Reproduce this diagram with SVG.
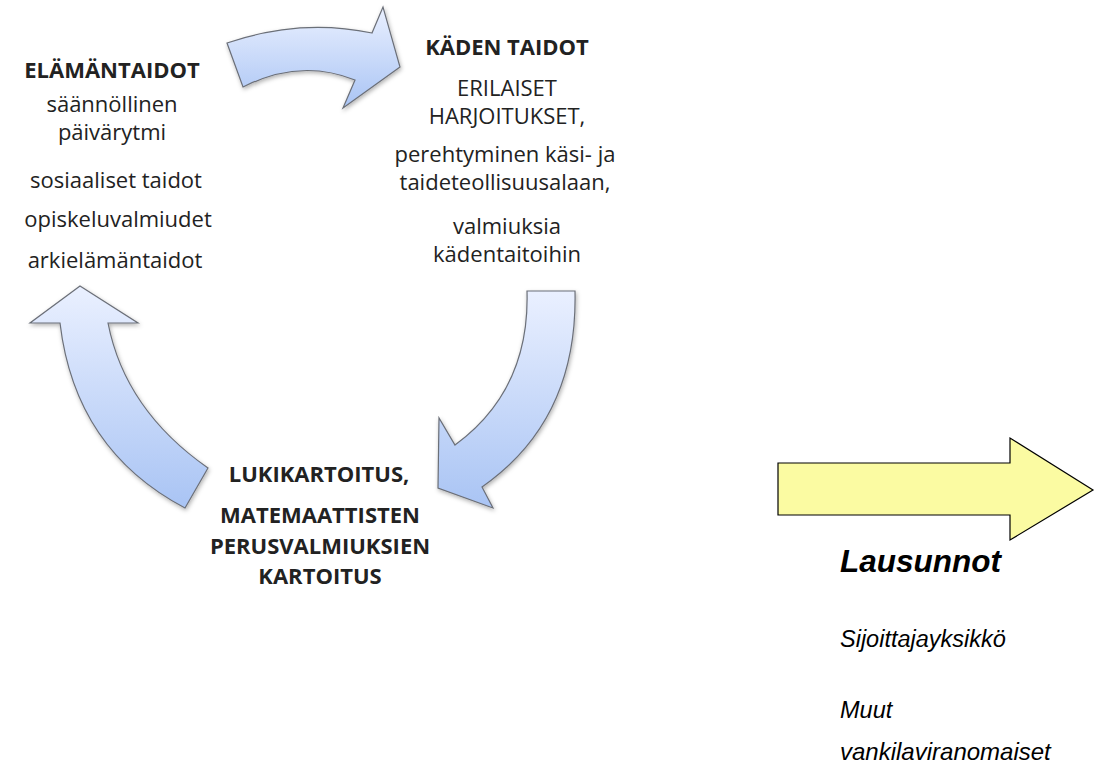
<svg xmlns="http://www.w3.org/2000/svg" width="1097" height="765" viewBox="0 0 1097 765">
<style>
.t{font-family:"Open Sans","Liberation Sans",sans-serif;font-size:22px;fill:#222;text-anchor:middle}
.b{font-weight:bold;font-size:22px}
.r{font-family:"Liberation Sans",Arial,sans-serif;font-style:italic;fill:#000}
.arr{fill:url(#blue);stroke:#6b6f78;stroke-width:1.2;filter:url(#sh)}
</style>
<defs>
<linearGradient id="blue" x1="0" y1="0" x2="0" y2="1">
<stop offset="0" stop-color="#eaf0ff"/>
<stop offset="1" stop-color="#a9c4f4"/>
</linearGradient>
<filter id="sh" x="-20%" y="-20%" width="140%" height="140%">
<feDropShadow dx="1" dy="2" stdDeviation="2" flood-color="#000" flood-opacity="0.3"/>
</filter>
</defs>
<rect width="1097" height="765" fill="#fff"/>
<g id="connectors">
<path id="arrow-top" class="arr" d="M227,43 Q300,18 372,33 L383,7 L400,67 L343,108 L355,80 Q300,58 243,87 Z"/>
<path id="arrow-right" class="arr" d="M527,291 L575,291 Q578,420 482,487 L493,508 L438,488 L439,418 L455,445 Q530,390 527,291 Z"/>
<path id="arrow-left" class="arr" d="M80,286 L138,323 L108,323 Q125,410 208,468 L185,508 Q75,450 60,323 L30,323 Z"/>
<polygon id="arrow-yellow" points="778,463 1010,463 1010,438 1093,490 1010,540 1010,515 778,515" fill="#fbfba2" stroke="#000" stroke-width="1.2"/>
</g>
<g id="node-elamantaidot">
<text class="t b" x="112" y="78">ELÄMÄNTAIDOT</text>
<text class="t" x="112" y="112">säännöllinen</text>
<text class="t" x="112" y="140">päivärytmi</text>
<text class="t" x="116" y="188">sosiaaliset taidot</text>
<text class="t" x="118" y="227">opiskeluvalmiudet</text>
<text class="t" x="115" y="268">arkielämäntaidot</text>
</g>
<g id="node-kaden-taidot">
<text class="t b" x="507" y="55">KÄDEN TAIDOT</text>
<text class="t" x="507" y="96">ERILAISET</text>
<text class="t" x="507" y="124">HARJOITUKSET,</text>
<text class="t" x="505" y="162">perehtyminen käsi- ja</text>
<text class="t" x="505" y="190">taideteollisuusalaan,</text>
<text class="t" x="507" y="234">valmiuksia</text>
<text class="t" x="507" y="262">kädentaitoihin</text>
</g>
<g id="node-lukikartoitus">
<text class="t b" x="319" y="482">LUKIKARTOITUS,</text>
<text class="t b" x="320" y="523">MATEMAATTISTEN</text>
<text class="t b" x="320" y="554">PERUSVALMIUKSIEN</text>
<text class="t b" x="320" y="584">KARTOITUS</text>
</g>
<g id="node-lausunnot">
<text class="r" x="840" y="572" font-size="31.5" font-weight="bold">Lausunnot</text>
<text class="r" x="840" y="647" font-size="23.5">Sijoittajayksikkö</text>
<text class="r" x="840" y="718" font-size="23.5">Muut</text>
<text class="r" x="840" y="760" font-size="24">vankilaviranomaiset</text>
</g>
</svg>
